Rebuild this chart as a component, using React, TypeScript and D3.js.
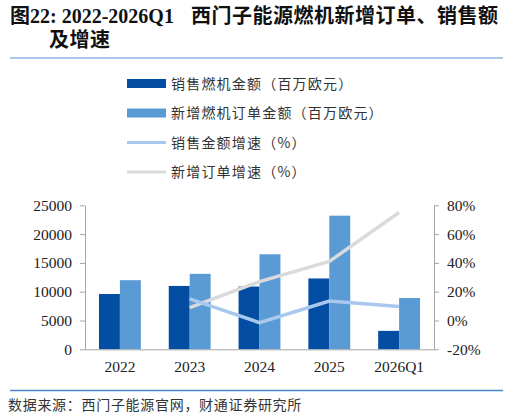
import { useRef, useEffect } from "react";
import * as d3 from "d3";

// chart data
const categories = ["2022", "2023", "2024", "2025", "2026Q1"];
const salesAmount = [9600, 11000, 10900, 12300, 3200]; // 销售燃机金额（百万欧元）
const orderAmount = [12000, 13100, 16500, 23200, 8900]; // 新增燃机订单金额（百万欧元）
const salesGrowth: (number | null)[] = [null, 15, -1.5, 13.5, 9.8]; // %
const orderGrowth: (number | null)[] = [null, 9, 27, 41, 75]; // %
const leftTicks = [0, 5000, 10000, 15000, 20000, 25000];
const rightTicks = [-20, 0, 20, 40, 60, 80];

const WIDTH = 526;
const HEIGHT = 416;
const SERIF = "'Liberation Serif', 'Times New Roman', 'Noto Sans CJK SC', serif";
const CJK = "'Noto Sans CJK SC', sans-serif";

const DARK = "#034ea2";
const LIGHT = "#5b9bd5";
const SALES_LINE = "#a9c8ee";
const ORDER_LINE = "#d9dadc";
const AXIS = "#a6a6a6";

const App = () => {
  const svgRef = useRef<SVGSVGElement | null>(null);

  useEffect(() => {
    const svg = d3.select(svgRef.current);
    svg.selectAll("*").remove();

    const plot = { left: 85, right: 434, top: 205.3, bottom: 349.3 };

    const x = d3.scaleBand<string>()
      .domain(categories)
      .range([plot.left, plot.right])
      .paddingInner(0.4)
      .paddingOuter(0.2);

    const xSub = d3.scaleBand<number>()
      .domain([0, 1])
      .range([0, x.bandwidth()]);

    const yLeft = d3.scaleLinear().domain([0, 25000]).range([plot.bottom, plot.top]);
    const yRight = d3.scaleLinear().domain([-20, 80]).range([plot.bottom, plot.top]);

    // title (two parts on the first line, wrapped second line)
    const titleStyle = (t: d3.Selection<SVGTextElement, unknown, null, undefined>) =>
      t.attr("font-family", SERIF)
        .attr("font-weight", "bold")
        .attr("font-size", 20)
        .attr("fill", "#111");
    svg.append("text").attr("transform", "translate(10,23)").call(titleStyle)
      .text("图22: 2022-2026Q1");
    svg.append("text").attr("transform", "translate(191,23)").call(titleStyle)
      .attr("letter-spacing", 0.5)
      .text("西门子能源燃机新增订单、销售额");
    svg.append("text").attr("transform", "translate(49,47)").call(titleStyle)
      .attr("letter-spacing", 0.5)
      .text("及增速");

    svg.append("line")
      .attr("x1", 10).attr("x2", 503).attr("y1", 58).attr("y2", 58)
      .attr("stroke", "#8fb4e3").attr("stroke-width", 1.5);

    // legend
    const legend = [
      { label: "销售燃机金额（百万欧元）", color: DARK, type: "bar" },
      { label: "新增燃机订单金额（百万欧元）", color: LIGHT, type: "bar" },
      { label: "销售金额增速（%）", color: SALES_LINE, type: "line" },
      { label: "新增订单增速（%）", color: ORDER_LINE, type: "line" },
    ];
    const lg = svg.append("g").selectAll("g")
      .data(legend)
      .join("g")
      .attr("transform", (_, i) => `translate(127,${83.5 + i * 29.5})`);
    lg.filter(d => d.type === "bar").append("rect")
      .attr("x", 0).attr("y", -4.5).attr("width", 39).attr("height", 9)
      .attr("fill", d => d.color);
    lg.filter(d => d.type === "line").append("line")
      .attr("x1", 0).attr("x2", 39).attr("y1", 0).attr("y2", 0)
      .attr("stroke", d => d.color).attr("stroke-width", 3);
    lg.append("text")
      .attr("x", 44).attr("y", 0).attr("dy", "0.36em")
      .attr("font-family", CJK).attr("font-size", 14)
      .attr("letter-spacing", 1.2)
      .attr("fill", "#333")
      .text(d => d.label);

    // bars
    const bars = svg.append("g");
    const series = [salesAmount, orderAmount];
    series.forEach((values, s) => {
      bars.selectAll(`.bar${s}`)
        .data(values)
        .join("rect")
        .attr("class", `bar${s}`)
        .attr("x", (_, i) => (x(categories[i]) as number) + (xSub(s) as number))
        .attr("y", d => yLeft(d))
        .attr("width", xSub.bandwidth())
        .attr("height", d => yLeft(0) - yLeft(d))
        .attr("fill", s === 0 ? DARK : LIGHT);
    });

    // axes
    const yAxisL = d3.axisLeft(yLeft).tickValues(leftTicks).tickSize(5).tickSizeOuter(0).tickPadding(8)
      .tickFormat(d => `${d}`);
    const yAxisR = d3.axisRight(yRight).tickValues(rightTicks).tickSize(5).tickSizeOuter(0).tickPadding(8)
      .tickFormat(d => `${d}%`);

    const gl = svg.append("g").attr("transform", `translate(${plot.left},0)`).call(yAxisL);
    const gr = svg.append("g").attr("transform", `translate(${plot.right},0)`).call(yAxisR);
    [gl, gr].forEach(g => {
      g.select(".domain").attr("stroke", AXIS);
      g.selectAll(".tick line").attr("stroke", AXIS);
      g.selectAll(".tick text")
        .attr("font-family", SERIF).attr("font-size", 15.5).attr("fill", "#222");
    });

    const xAxis = d3.axisBottom(x).tickSize(0).tickPadding(12);
    const gx = svg.append("g").attr("transform", `translate(0,${plot.bottom})`).call(xAxis);
    gx.select(".domain").attr("stroke", AXIS);
    gx.selectAll(".tick text")
      .attr("font-family", SERIF).attr("font-size", 15.5).attr("fill", "#222");

    // growth lines
    const cx = (i: number) => (x(categories[i]) as number) + x.bandwidth() / 2;
    const line = d3.line<number | null>()
      .defined(d => d !== null)
      .x((_, i) => cx(i))
      .y(d => yRight(d as number));

    svg.append("path")
      .datum(orderGrowth)
      .attr("d", line)
      .attr("fill", "none").attr("stroke", ORDER_LINE).attr("stroke-width", 3.5);
    svg.append("path")
      .datum(salesGrowth)
      .attr("d", line)
      .attr("fill", "none").attr("stroke", SALES_LINE).attr("stroke-width", 3.5);

    // footer
    svg.append("line")
      .attr("x1", 10).attr("x2", 503).attr("y1", 390.5).attr("y2", 390.5)
      .attr("stroke", "#4a86c8").attr("stroke-width", 1.5);
    svg.append("text")
      .attr("x", 8).attr("y", 410)
      .attr("font-family", CJK).attr("font-size", 14)
      .attr("letter-spacing", 0.7)
      .attr("fill", "#333")
      .text("数据来源：西门子能源官网，财通证券研究所");
  }, []);

  return (
    <svg
      ref={svgRef}
      width={WIDTH}
      height={HEIGHT}
      style={{ position: "absolute", left: 0, top: 0, background: "#fff" }}
    />
  );
};

export default App;
